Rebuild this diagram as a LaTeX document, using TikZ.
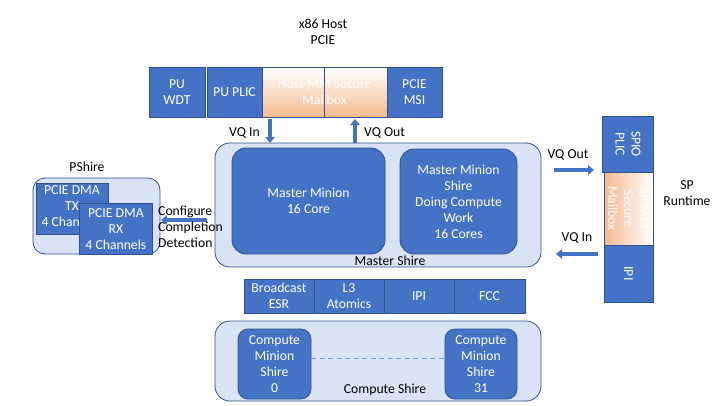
\documentclass[tikz,border=0pt]{standalone}
\usepackage{fontspec}
\setmainfont{Carlito}
\usetikzlibrary{arrows.meta}
\definecolor{bfill}{HTML}{4472C4}
\definecolor{bdraw}{HTML}{2F528F}
\definecolor{cfill}{HTML}{DAE3F3}
\definecolor{peach}{HTML}{F4B98F}
\tikzset{
  every node/.style={font=\fontsize{13.7}{16}\selectfont, inner sep=0pt, align=center},
  bluebox/.style={draw=bdraw, fill=bfill, text=white, line width=0.8pt},
  rbox/.style={bluebox, rounded corners=14pt},
  container/.style={draw=bdraw, fill=cfill, line width=0.8pt, rounded corners=15pt},
  mailbox/.style={draw=bdraw, line width=0.8pt, top color=white, bottom color=peach, text=white},
  vmailbox/.style={draw=bdraw, line width=0.8pt, left color=peach, right color=white, text=white},
  blockarrow/.style={draw=bfill, line width=3.5pt, -{Triangle[width=9.5pt,length=6pt]}},
  lbl/.style={text=black},
}
\begin{document}
\begin{tikzpicture}[x=1pt,y=-1pt]
\useasboundingbox (0,0) rectangle (720,405);
% title
\node[lbl] (host) at (323,32) {x86 Host\\PCIE};
% top row
\node[bluebox, minimum width=56, minimum height=50] (wdt) at (177,92) {PU\\WDT};
\node[bluebox, minimum width=55, minimum height=50] (plic) at (234.5,92) {PU PLIC};
\node[mailbox, minimum width=125, minimum height=50] (hmb) at (324.5,92) {Host-MM Secure\\Mailbox};
\draw[bdraw, line width=0.8pt] (hmb.north) -- (hmb.south);
\node[bluebox, minimum width=55, minimum height=50] (msi) at (414.5,92) {PCIE\\MSI};
% master shire
\node[container, minimum width=326, minimum height=124] (ms) at (378,205) {};
\node[lbl, anchor=base] (mslbl) at (390,265) {Master Shire};
\node[rbox, minimum width=153, minimum height=106] (mm) at (308.5,201) {Master Minion\\16 Core};
\node[rbox, minimum width=117, minimum height=105] (mmw) at (458.5,201.5) {Master Minion\\Shire\\Doing Compute\\Work\\16 Cores};
% VQ arrows top
\coordinate (vqinA) at (270,119);
\coordinate (vqinB) at (270,143);
\draw[blockarrow] (vqinA) -- (vqinB);
\node[lbl, anchor=east] (vqinl) at (260,133) {VQ In};
\coordinate (vqoutA) at (355,143);
\coordinate (vqoutB) at (355,119);
\draw[blockarrow] (vqoutA) -- (vqoutB);
\node[lbl, anchor=west] (vqoutl) at (364,133) {VQ Out};
% bottom row
\node[bluebox, minimum width=70, minimum height=34] (besr) at (279,296) {Broadcast\\ESR};
\node[bluebox, minimum width=70, minimum height=34] (l3) at (349,296) {L3\\Atomics};
\node[bluebox, minimum width=70, minimum height=34] (ipi) at (419,296) {IPI};
\node[bluebox, minimum width=71, minimum height=34] (fcc) at (489.5,296) {FCC};
% compute shire
\node[container, minimum width=326, minimum height=80] (cs) at (378,361) {};
\node[lbl] (cslbl) at (385,390) {Compute Shire};
\node[rbox, rounded corners=10pt, minimum width=73, minimum height=70] (cm0) at (274.5,364) {Compute\\Minion\\Shire\\0};
\node[rbox, rounded corners=10pt, minimum width=72, minimum height=70] (cm31) at (481,364) {Compute\\Minion\\Shire\\31};
\draw[bfill!75, line width=1pt, dash pattern=on 5pt off 3.5pt] (cm0.east |- 0,358) -- (cm31.west |- 0,358);
% PShire
\node[lbl] (pslbl) at (87,167) {PShire};
\node[container, rounded corners=12pt, minimum width=127, minimum height=76] (ps) at (96.5,216) {};
\node[bluebox, minimum width=72, minimum height=51, anchor=north west] (tx) at (36,183) {};
\node[text=white, anchor=north] (txt) at (72,185) {PCIE DMA\\TX\\4 Channels};
\node[bluebox, minimum width=73, minimum height=51, anchor=north west] (rx) at (79,203) {PCIE DMA\\RX\\4 Channels};
\coordinate (cfgA) at (207,220);
\coordinate (cfgB) at (161,220);
\draw[blockarrow] (cfgA) -- (cfgB);
\node[lbl, anchor=west, align=left] (cfg) at (158,227) {Configure\\Completion\\Detection};
% SP side
\node[bluebox, rotate=-90, minimum width=56, minimum height=51] (spio) at (628,144) {SPIO\\PLIC};
\node[vmailbox, rotate=-90, minimum width=73, minimum height=49] (spmb) at (628.5,208.5) {SP-MM\\Secure\\Mailbox};
\node[bluebox, rotate=-90, minimum width=57, minimum height=49] (spipi) at (628.5,273.5) {IPI};
\node[lbl] (sprt) at (687,193) {SP\\Runtime};
\node[lbl] (vqo2) at (568,155) {VQ Out};
\coordinate (rvoA) at (554,170);
\coordinate (rvoB) at (594,170);
\draw[blockarrow] (rvoA) -- (rvoB);
\node[lbl] (vqi2) at (577,238) {VQ In};
\coordinate (rviA) at (598,254);
\coordinate (rviB) at (556,254);
\draw[blockarrow] (rviA) -- (rviB);
\end{tikzpicture}
\end{document}
